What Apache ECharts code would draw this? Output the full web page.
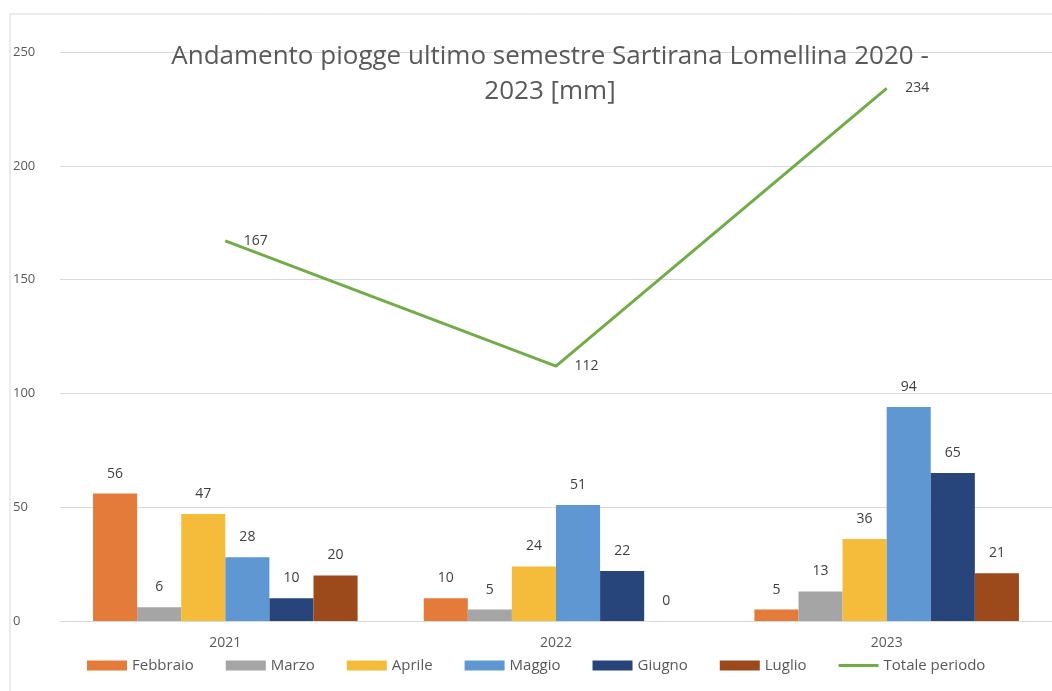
<!DOCTYPE html>
<html><head><meta charset="utf-8">
<script src="https://cdn.jsdelivr.net/npm/echarts@6/dist/echarts.min.js"></script>
<style>html,body{margin:0;padding:0;background:#fff}#c{width:1052px;height:691px}</style>
</head><body><div id="c"></div>
<script>
const categories = ['2021', '2022', '2023'];
const febbraio = [56, 10, 5];
const marzo = [6, 5, 13];
const aprile = [47, 24, 36];
const maggio = [28, 51, 94];
const giugno = [10, 22, 65];
const luglio = [20, 0, 21];
const totale = [167, 112, 234];
const yTicks = [0, 50, 100, 150, 200, 250];

const barNames = ['Febbraio', 'Marzo', 'Aprile', 'Maggio', 'Giugno', 'Luglio'];
const barData = [febbraio, marzo, aprile, maggio, giugno, luglio];
const barColors = ['#E47B3A', '#A5A5A5', '#F4BC3A', '#5F97D2', '#27457A', '#9C4A1C'];
const font = '"Open Sans", "Liberation Sans", sans-serif';

const series = barNames.map((n, i) => ({
  name: n, type: 'bar', data: barData[i],
  barGap: '0%', barCategoryGap: '20%',
  itemStyle: { color: barColors[i] },
  label: { show: true, position: 'top', distance: 13, color: '#404040', fontSize: 14, fontFamily: font }
}));
series.push({
  name: 'Totale periodo', type: 'line', data: totale,
  symbol: 'circle', symbolSize: 1, showSymbol: true,
  lineStyle: { color: '#70AD47', width: 3 }, itemStyle: { color: '#70AD47' },
  label: { show: true, position: 'right', distance: 18, color: '#404040', fontSize: 14, fontFamily: font },
  z: 5
});

const chart = echarts.init(document.getElementById('c'));
chart.setOption({
  animation: false,
  backgroundColor: '#fff',
  graphic: [{ type: 'rect', shape: { x: 10, y: 14, width: 1060, height: 700 }, style: { fill: 'none', stroke: '#d9d9d9', lineWidth: 1 }, silent: true }],
  title: {
    text: 'Andamento piogge ultimo semestre Sartirana Lomellina 2020 -\n2023 [mm]',
    left: 545, top: 34, textAlign: 'center',
    textStyle: { fontFamily: font, fontSize: 26, fontWeight: 'normal', color: '#595959', lineHeight: 35 }
  },
  legend: {
    bottom: 13, left: 82, itemWidth: 40, itemHeight: 10, itemGap: 32,
    textStyle: { fontFamily: font, fontSize: 15, color: '#595959' },
    data: barNames.map(n => ({ name: n, icon: 'rect' })).concat([{ name: 'Totale periodo', icon: 'path://M0,0 L40,0 L40,3 L0,3 Z', itemStyle: { color: '#70AD47' } }])
  },
  grid: { left: 60, right: -5, top: 52, bottom: 70, containLabel: false },
  xAxis: {
    type: 'category', data: categories,
    axisLine: { show: true, lineStyle: { color: '#d9d9d9' } },
    axisTick: { show: false },
    axisLabel: { color: '#595959', fontFamily: font, fontSize: 14, margin: 15 }
  },
  yAxis: {
    type: 'value', min: yTicks[0], max: yTicks[yTicks.length - 1], interval: 50,
    axisLine: { show: false }, axisTick: { show: false },
    splitLine: { lineStyle: { color: '#d9d9d9' } },
    axisLabel: { color: '#595959', fontFamily: font, fontSize: 13, margin: 47, align: 'left' }
  },
  series: series
});
</script></body></html>
